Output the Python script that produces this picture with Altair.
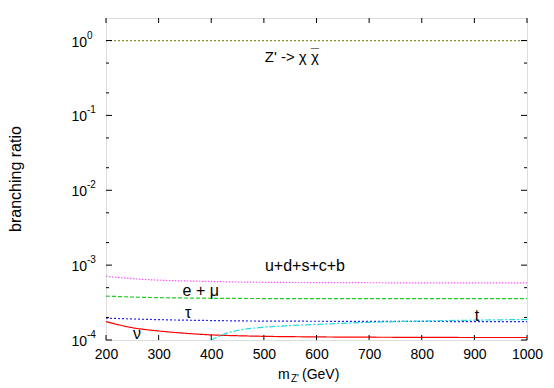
import altair as alt
import pandas as pd

# ---- data ----
x_main = [200, 250, 300, 350, 400, 450, 500, 600, 700, 800, 900, 1000]
br_chi = [0.998, 0.998, 0.998, 0.998, 0.998, 0.998, 0.998, 0.998, 0.998, 0.998, 0.998, 0.998]
br_quarks = [7.1e-4, 6.6e-4, 6.3e-4, 6.15e-4, 6.05e-4, 5.95e-4, 5.9e-4, 5.85e-4, 5.82e-4, 5.8e-4, 5.8e-4, 5.8e-4]
br_emu = [3.86e-4, 3.75e-4, 3.68e-4, 3.64e-4, 3.61e-4, 3.59e-4, 3.58e-4, 3.57e-4, 3.56e-4, 3.56e-4, 3.56e-4, 3.56e-4]
br_tau = [1.96e-4, 1.91e-4, 1.87e-4, 1.84e-4, 1.82e-4, 1.80e-4, 1.79e-4, 1.78e-4, 1.77e-4, 1.77e-4, 1.76e-4, 1.76e-4]
br_nu = [1.76e-4, 1.46e-4, 1.32e-4, 1.23e-4, 1.17e-4, 1.14e-4, 1.12e-4, 1.10e-4, 1.09e-4, 1.085e-4, 1.08e-4, 1.08e-4]
x_top = [400, 410, 425, 450, 500, 550, 600, 700, 800, 900, 1000]
br_top = [1.0e-4, 1.08e-4, 1.2e-4, 1.34e-4, 1.48e-4, 1.56e-4, 1.62e-4, 1.72e-4, 1.79e-4, 1.84e-4, 1.88e-4]

series_names = ["chi", "quarks", "emu", "tau", "nu", "top"]
series_colors = ["#8c8c30", "#ff55ff", "#22cc22", "#2222ff", "#ff0000", "#22dddd"]
series_dash = [[2, 2], [1.5, 1.5], [4, 2], [2, 2], [1, 0], [6, 2, 2, 2]]

x_ticks = [200, 300, 400, 500, 600, 700, 800, 900, 1000]
y_major = [1e-4, 1e-3, 1e-2, 1e-1, 1.0]
y_exp = ["-4", "-3", "-2", "-1", "0"]
y_minor = [2e-4, 5e-4, 2e-3, 5e-3, 2e-2, 5e-2, 2e-1, 5e-1]

label_text = ["u+d+s+c+b", "e + \u03bc", "\u03c4", "t", "\u03bd"]
label_x = [578, 380, 356, 905, 259]
label_y = [9.6e-4, 4.5e-4, 2.32e-4, 2.09e-4, 1.19e-4]
chi_text = ["Z' -> \u03c7 \u03c7"]
chi_x = [553]
chi_y = [0.61]

# ---- tables ----
rows = []
for name, xs_, ys_ in [("chi", x_main, br_chi), ("quarks", x_main, br_quarks),
                       ("emu", x_main, br_emu), ("tau", x_main, br_tau),
                       ("nu", x_main, br_nu), ("top", x_top, br_top)]:
    for a, b in zip(xs_, ys_):
        rows.append({"series": name, "m": a, "br": b})
lines_df = pd.DataFrame(rows)
labels_df = pd.DataFrame({"t": label_text, "m": label_x, "br": label_y})
chi_df = pd.DataFrame({"t": chi_text, "m": chi_x, "br": chi_y})
xt_df = pd.DataFrame({"m": x_ticks})
ymaj_df = pd.DataFrame({"br": y_major, "e": y_exp})
ymin_df = pd.DataFrame({"br": y_minor})
one_df = pd.DataFrame({"k": [0]})

W, H = 421, 322
FONT = "Liberation Sans"

xs = alt.Scale(domain=[200, 1000], nice=False, zero=False)
ys = alt.Scale(type="log", domain=[1e-4, 2], nice=False)

X = alt.X("m:Q", scale=xs, axis=alt.Axis(values=x_ticks, ticks=False, domain=False, grid=False,
                                          labelFontSize=14, labelColor="black", labelPadding=7,
                                          labelFont=FONT, title=None, labelFlush=False, format="d"))
Y = alt.Y("br:Q", scale=ys, axis=None)

lines = alt.Chart(lines_df).mark_line(strokeWidth=1.2, clip=True, interpolate="monotone").encode(
    x=X, y=Y,
    color=alt.Color("series:N", scale=alt.Scale(domain=series_names, range=series_colors), legend=None),
    strokeDash=alt.StrokeDash("series:N", scale=alt.Scale(domain=series_names, range=series_dash), legend=None),
)

labels = alt.Chart(labels_df).mark_text(fontSize=16, font=FONT, color="black", baseline="middle").encode(
    x=alt.X("m:Q", scale=xs), y=Y, text="t:N")
chilab = alt.Chart(chi_df).mark_text(fontSize=15, font=FONT, color="black", baseline="middle").encode(
    x=alt.X("m:Q", scale=xs), y=Y, text="t:N")
# bar over the second chi
chibar = alt.Chart(chi_df).mark_text(fontSize=15, font=FONT, color="black", baseline="middle",
                                     dx=23, dy=-3).encode(
    x=alt.X("m:Q", scale=xs), y=Y, text=alt.value("\u00af"))

xtick_b = alt.Chart(xt_df).mark_rule(color="black").encode(x=alt.X("m:Q", scale=xs), y=alt.value(H), y2=alt.value(H - 5))
xtick_t = alt.Chart(xt_df).mark_rule(color="black").encode(x=alt.X("m:Q", scale=xs), y=alt.value(0), y2=alt.value(5))
ytick_l = alt.Chart(ymaj_df).mark_rule(color="black").encode(y=Y, x=alt.value(0), x2=alt.value(6))
ytick_r = alt.Chart(ymaj_df).mark_rule(color="black").encode(y=Y, x=alt.value(W), x2=alt.value(W - 6))
ymin_l = alt.Chart(ymin_df).mark_rule(color="black").encode(y=Y, x=alt.value(0), x2=alt.value(3))
ymin_r = alt.Chart(ymin_df).mark_rule(color="black").encode(y=Y, x=alt.value(W), x2=alt.value(W - 3))

ylab10 = alt.Chart(ymaj_df).mark_text(fontSize=14, font=FONT, align="right", baseline="alphabetic", dy=6).encode(
    y=Y, x=alt.value(-19), text=alt.value("10"))
ylabexp = alt.Chart(ymaj_df).mark_text(fontSize=10, font=FONT, align="left", baseline="alphabetic", dy=-2).encode(
    y=Y, x=alt.value(-19), text="e:N")

ytitle = alt.Chart(one_df).mark_text(fontSize=16, font=FONT, angle=270, baseline="middle", align="center").encode(
    x=alt.value(-90), y=alt.value(H / 2), text=alt.value("branching ratio"))
xt_m = alt.Chart(one_df).mark_text(fontSize=14, font=FONT, align="left", baseline="alphabetic").encode(
    x=alt.value(172), y=alt.value(361), text=alt.value("m"))
xt_z = alt.Chart(one_df).mark_text(fontSize=10, font=FONT, align="left", baseline="alphabetic").encode(
    x=alt.value(185), y=alt.value(364), text=alt.value("Z'"))
xt_g = alt.Chart(one_df).mark_text(fontSize=14, font=FONT, align="left", baseline="alphabetic").encode(
    x=alt.value(196), y=alt.value(361), text=alt.value("(GeV)"))

chart = alt.layer(lines, labels, chilab, chibar, xtick_b, xtick_t, ytick_l, ytick_r, ymin_l, ymin_r,
                  ylab10, ylabexp, ytitle, xt_m, xt_z, xt_g).properties(
    width=W, height=H,
    autosize=alt.AutoSizeParams(type="none"),
    padding={"left": 98, "top": 10, "right": 19, "bottom": 46},
).configure_view(stroke="#222", strokeWidth=1).configure(background="white")

chart.save("out.html", embed_options={"renderer": "svg", "actions": False})
